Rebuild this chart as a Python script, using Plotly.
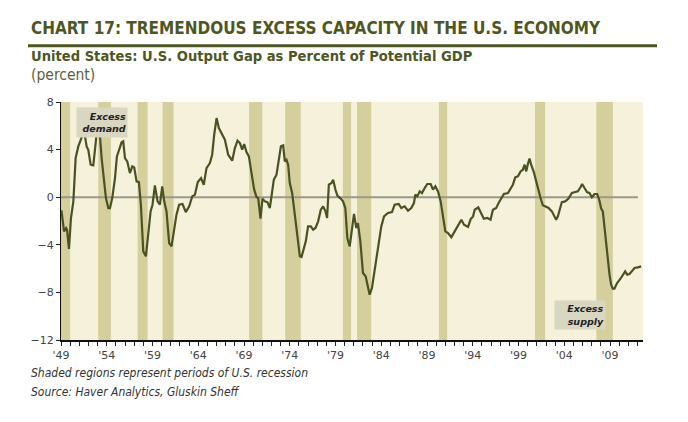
import plotly.graph_objects as go

# ---------------- data ----------------
years = [1949.05, 1949.33, 1949.55, 1949.66, 1949.87, 1950.09, 1950.35, 1950.6, 1950.89, 1951.18,
         1951.5, 1951.7, 1951.8, 1951.98, 1952.24, 1952.53, 1952.71, 1952.89, 1953.07, 1953.26,
         1953.44, 1953.7, 1953.91, 1954.17, 1954.35, 1954.6, 1954.9, 1955.11, 1955.37, 1955.62,
         1955.8, 1955.99, 1956.24, 1956.53, 1956.79, 1957.0, 1957.26, 1957.51, 1957.73, 1957.99,
         1958.28, 1958.53, 1958.79, 1959.0, 1959.26, 1959.55, 1959.81, 1960.06, 1960.28, 1960.53,
         1960.82, 1961.08, 1961.33, 1961.62, 1961.91, 1962.28, 1962.64, 1963.01, 1963.34, 1963.63,
         1963.95, 1964.3, 1964.6, 1964.9, 1965.27, 1965.52, 1965.74, 1966.0, 1966.25, 1966.54,
         1966.91, 1967.27, 1967.71, 1968.0, 1968.29, 1968.55, 1968.8, 1969.02, 1969.27, 1969.53,
         1969.82, 1970.11, 1970.37, 1970.55, 1970.8, 1971.02, 1971.28, 1971.57, 1971.82, 1972.08,
         1972.26, 1972.55, 1972.81, 1973.03, 1973.28, 1973.46, 1973.64, 1973.82, 1974.0, 1974.26,
         1974.55, 1974.84, 1975.1, 1975.28, 1975.57, 1975.75, 1976.0, 1976.3, 1976.55, 1976.81,
         1977.1, 1977.39, 1977.65, 1977.9, 1978.08, 1978.27, 1978.56, 1978.74, 1979.0, 1979.2,
         1979.56, 1979.82, 1980.07, 1980.29, 1980.55, 1980.8, 1981.02, 1981.27, 1981.45, 1981.71,
         1982.0, 1982.29, 1982.55, 1982.73, 1982.98, 1983.27, 1983.64, 1984.0, 1984.3, 1984.73,
         1985.17, 1985.46, 1985.9, 1986.19, 1986.55, 1986.92, 1987.28, 1987.57, 1987.72, 1987.94,
         1988.2, 1988.45, 1988.74, 1989.03, 1989.4, 1989.65, 1989.91, 1990.2, 1990.49, 1990.75,
         1991.0, 1991.29, 1991.66, 1992.02, 1992.46, 1992.75, 1993.04, 1993.48, 1993.77, 1994.03,
         1994.21, 1994.6, 1994.9, 1995.21, 1995.58, 1995.94, 1996.2, 1996.56, 1996.82, 1997.11,
         1997.4, 1997.84, 1998.13, 1998.38, 1998.64, 1998.93, 1999.22, 1999.47, 1999.66, 1999.84,
         2000.02, 2000.2, 2000.38, 2000.67, 2000.93, 2001.18, 2001.4, 2001.66, 2001.91, 2002.28,
         2002.64, 2002.93, 2003.11, 2003.3, 2003.55, 2003.73, 2004.1, 2004.46, 2004.83, 2005.19,
         2005.48, 2005.77, 2005.95, 2006.21, 2006.5, 2006.75, 2007.01, 2007.3, 2007.59, 2007.84,
         2008.03, 2008.21, 2008.39, 2008.65, 2008.94, 2009.12, 2009.3, 2009.48, 2009.77, 2010.14,
         2010.39, 2010.65, 2010.87, 2011.12, 2011.38, 2011.67, 2012.04, 2012.4]

output_gap = [-1.1, -2.87, -2.6, -2.75, -4.35, -1.75, -0.35, 3.3, 4.27, 4.85,
              5.7, 4.6, 4.27, 3.99, 2.73, 2.67, 4.13, 5.3, 6.1, 5.1,
              3.29, 1.19, -0.07, -0.91, -0.91, -0.07, 1.61, 3.43, 4.13, 4.61,
              4.69, 3.29, 3.01, 2.03, 2.59, 2.5, 1.33, 1.27, -0.63, -4.55,
              -4.97, -2.87, -1.19, -0.63, 0.99, -0.35, -0.63, 0.9, -0.35, -1.19,
              -3.85, -4.13, -2.87, -1.47, -0.63, -0.57, -1.25, -0.77, 0.07, 0.2,
              1.27, 1.61, 1.05, 2.45, 2.87, 3.57, 5.25, 6.65, 5.81, 5.39,
              4.83, 3.57, 3.07, 4.13, 4.75, 4.55, 3.99, 4.47, 3.8, 3.43,
              1.89, 0.63, 0.0, -0.07, -1.81, -0.12, -0.35, -0.43, -0.91, 0.49,
              1.47, 1.89, 3.15, 4.27, 4.35, 3.01, 3.15, 2.73, 1.19, 0.35,
              -1.47, -3.43, -4.97, -5.03, -4.27, -3.71, -2.45, -2.45, -2.73, -2.59,
              -2.03, -1.05, -0.77, -1.19, -1.75, 1.05, 1.19, 1.47, 0.6, 0.14,
              -0.12, -0.35, -0.91, -3.43, -4.13, -2.59, -1.41, -2.59, -2.17, -3.71,
              -6.37, -6.65, -7.77, -8.19, -7.63, -6.23, -4.27, -2.45, -1.61, -1.33,
              -1.25, -0.63, -0.57, -0.91, -0.77, -1.13, -0.91, -0.49, 0.21, 0.07,
              0.49, 0.35, 0.77, 1.11, 1.11, 0.63, 0.91, 0.49, -0.35, -1.75,
              -2.87, -3.01, -3.37, -2.87, -2.31, -1.89, -2.31, -2.5, -1.84, -1.61,
              -1.05, -0.86, -1.33, -1.81, -1.75, -1.89, -1.05, -0.91, -0.49, -0.12,
              0.27, 0.35, 0.77, 1.05, 1.67, 1.75, 2.17, 2.31, 2.73, 2.17,
              2.79, 3.24, 2.73, 2.11, 1.33, 0.43, -0.07, -0.68, -0.77, -0.91,
              -1.19, -1.7, -1.89, -1.61, -0.77, -0.41, -0.35, -0.12, 0.35, 0.41,
              0.49, 0.83, 1.11, 0.77, 0.41, 0.35, 0.0, 0.27, 0.27, -0.29,
              -0.96, -1.19, -2.59, -4.55, -6.51, -7.35, -7.69, -7.69, -7.21, -6.85,
              -6.51, -6.23, -6.51, -6.45, -6.23, -5.95, -5.9, -5.81]

recession_start = [1949.0, 1953.07, 1957.37, 1960.1, 1969.56, 1973.5, 1979.8, 1981.35, 1990.3, 2000.8, 2007.5]
recession_end = [1950.0, 1954.46, 1958.46, 1961.3, 1971.0, 1975.2, 1980.7, 1982.9, 1991.2, 2001.9, 2009.3]

tick_years = [1949, 1954, 1959, 1964, 1969, 1974, 1979, 1984, 1989, 1994, 1999, 2004, 2009]
tick_labels = ["'49", "'54", "'59", "'64", "'69", "'74", "'79", "'84", "'89", "'94", "'99", "'04", "'09"]
y_ticks = [-12, -8, -4, 0, 4, 8]

# ---------------- styling ----------------
OLIVE = "#4E5722"
LINE = "#4A5224"
BG = "#F5F1DA"
BAND = "#D5CF9D"
COND = "DejaVu Sans Condensed, DejaVu Sans, sans-serif"

# page body has an 8px margin: the figure is offset by (8, 8) in the window
OFF = 8
W, H = 688 - OFF, 422 - OFF
# plot-area edges in window pixels (as in the reference)
L, R, T, B = 61, 643, 102, 340


def px(xp):
    return (xp - L) / (R - L)


def py(yp):
    return (B - yp) / (B - T)


fig = go.Figure()

fig.add_trace(go.Scatter(
    x=years, y=output_gap, mode="lines",
    line=dict(color=LINE, width=2.2),
    hoverinfo="skip", showlegend=False,
))

shapes = []
for s, e in zip(recession_start, recession_end):
    shapes.append(dict(type="rect", xref="x", yref="paper", x0=s, x1=e, y0=0, y1=1,
                       fillcolor=BAND, line=dict(width=0), layer="below"))
# zero line
shapes.append(dict(type="line", xref="x", yref="y", x0=1949, x1=2012.05, y0=0, y1=0,
                   line=dict(color="#9A988A", width=2), layer="below"))
# title rule
shapes.append(dict(type="line", xref="paper", yref="paper", x0=px(28), x1=px(657),
                   y0=py(45.7), y1=py(45.7), line=dict(color=OLIVE, width=3)))

TX = 29.3
annotations = [
    dict(text="<b>CHART 17: TREMENDOUS EXCESS CAPACITY IN THE U.S. ECONOMY</b>",
         xref="paper", yref="paper", x=px(TX), y=py(27.5), xanchor="left", yanchor="middle",
         showarrow=False, font=dict(family=COND, size=17, color=OLIVE)),
    dict(text="<b>United States: U.S. Output Gap as Percent of Potential GDP</b>",
         xref="paper", yref="paper", x=px(TX), y=py(55.5), xanchor="left", yanchor="middle",
         showarrow=False, font=dict(family=COND, size=14.6, color=OLIVE)),
    dict(text="(percent)",
         xref="paper", yref="paper", x=px(TX), y=py(75), xanchor="left", yanchor="middle",
         showarrow=False, font=dict(family=COND, size=15.5, color="#5E5F3E")),
    dict(text="<i>Shaded regions represent periods of U.S. recession</i>",
         xref="paper", yref="paper", x=px(TX), y=py(372.5), xanchor="left", yanchor="middle",
         showarrow=False, font=dict(family=COND, size=12, color="#333333")),
    dict(text="<i>Source: Haver Analytics, Gluskin Sheff</i>",
         xref="paper", yref="paper", x=px(TX), y=py(392), xanchor="left", yanchor="middle",
         showarrow=False, font=dict(family=COND, size=12, color="#333333")),
    dict(text="<b><i>Excess<br>demand</i></b>",
         xref="paper", yref="paper", x=px(102), y=py(122), xanchor="center", yanchor="middle",
         showarrow=False, align="right", width=48, height=27, bgcolor="#D9D6C2",
         borderpad=1, font=dict(family="DejaVu Sans", size=9.5, color="#222222")),
    dict(text="<b><i>Excess<br>supply</i></b>",
         xref="paper", yref="paper", x=px(580), y=py(315), xanchor="center", yanchor="middle",
         showarrow=False, align="right", width=48, height=26, bgcolor="#D9D6C2",
         borderpad=1, font=dict(family="DejaVu Sans", size=9.5, color="#222222")),
]

fig.update_layout(
    width=W, height=H,
    margin=dict(l=L - OFF, r=W - (R - OFF), t=T - OFF, b=H - (B - OFF), pad=0),
    paper_bgcolor="white", plot_bgcolor=BG,
    shapes=shapes, annotations=annotations,
    showlegend=False,
    xaxis=dict(range=[1949, 2012.6], tickmode="array", tickvals=tick_years, ticktext=tick_labels,
               ticks="outside", ticklen=4, tickcolor="#222", tickwidth=1,
               minor=dict(tick0=1949, dtick=1, ticks="outside", ticklen=4, tickcolor="#222", tickwidth=1),
               showgrid=False, zeroline=False, showline=True, linecolor="#111", linewidth=2,
               tickfont=dict(family="DejaVu Sans", size=11, color="#444")),
    yaxis=dict(range=[-12, 8], tickmode="array", tickvals=y_ticks,
               ticks="outside", ticklen=4, tickcolor="#222", tickwidth=1,
               showgrid=False, zeroline=False, showline=True, linecolor="#111", linewidth=1,
               tickfont=dict(family="DejaVu Sans", size=11, color="#444")),
)

fig.write_html("out.html")
